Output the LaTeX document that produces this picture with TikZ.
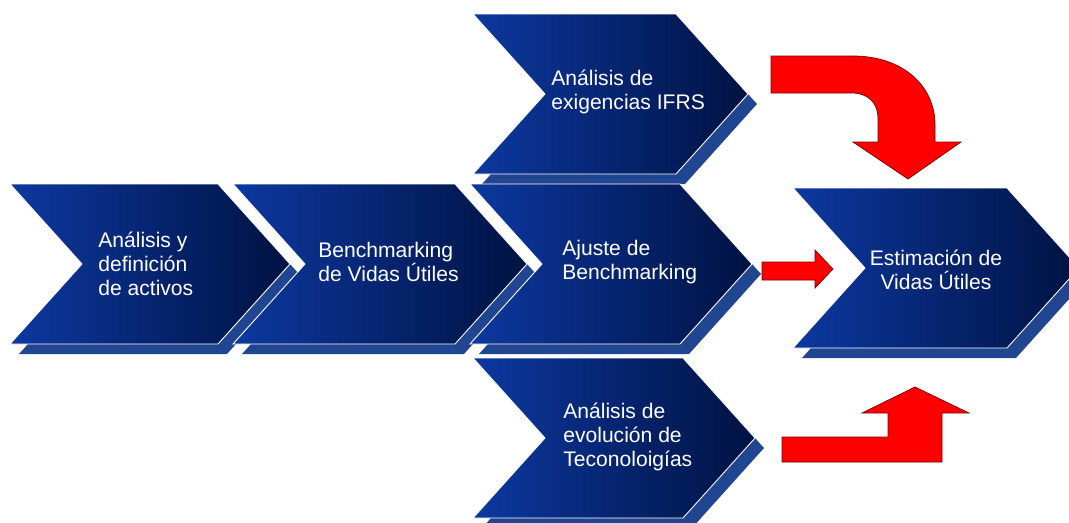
\documentclass[tikz,border=0pt]{standalone}
\usepackage{fontspec}
\setmainfont{Liberation Sans}

\definecolor{azulclaro}{RGB}{12,56,160}
\definecolor{azuloscuro}{RGB}{0,18,66}
\definecolor{azulsombra}{RGB}{32,70,146}
\definecolor{rojo}{RGB}{255,0,0}
\definecolor{rojoborde}{RGB}{120,0,0}

\tikzset{
  sombra/.style={fill=azulsombra},
  bloque/.style={left color=azulclaro, right color=azuloscuro, draw=white, line width=0.5pt},
  texto/.style={text=white, align=left, inner sep=0pt, font=\fontsize{12}{13.6}\selectfont},
  flecharoja/.style={fill=rojo, draw=rojoborde, line width=0.4pt, line join=miter}
}

\begin{document}
\begin{tikzpicture}[x=0.02cm, y=-0.02cm]  % 1 unidad = 1 pixel, y hacia abajo

    \clip (0,0) rectangle (1069,522);
    \fill[white] (0,0) rectangle (1069,522);

    % bloques en forma de chevron (sombra y bloque)
    \foreach \x/\y/\w in {473/14/203, 10/184/208, 233/184/222, 470/184/210, 473/358/210, 793/188/214} {
        \fill[sombra] (\x+9,\y+10) -- ++(\w,0) -- ++(72,80) -- ++(-72,80) -- ++(-\w,0) -- ++(72,-80) -- cycle;
        \path[bloque] (\x,\y) -- ++(\w,0) -- ++(72,80) -- ++(-72,80) -- ++(-\w,0) -- ++(72,-80) -- cycle;
    }

    % textos
    \node[texto, anchor=west] (activos) at (98,264) {Análisis y\\definición\\de activos};
    \node[texto, anchor=west] (bench) at (318,262) {Benchmarking\\de Vidas Útiles};
    \node[texto, anchor=west] (ajuste) at (562,262) {Ajuste de\\Benchmarking};
    \node[texto, anchor=west] (ifrs) at (551,92) {Análisis de\\exigencias IFRS};
    \node[texto, anchor=west] (tecno) at (563,437) {Análisis de\\evolución de\\Teconoloigías};
    \node[texto, align=center] (estimacion) at (936,270) {Estimación de\\Vidas Útiles};

    % flecha curva (arriba)
    \draw[flecharoja] (771,56) -- (853,56) .. controls (902,56) and (935,85) .. (935,125) -- (935,142) -- (961,142) -- (908,179) -- (853,142) -- (878,142) -- (878,118) .. controls (878,103) and (868,93) .. (852,93) -- (771,93) -- cycle;

    % flecha recta (centro)
    \draw[flecharoja] (762,262) -- (815,262) -- (815,250) -- (833,269) -- (815,288) -- (815,280) -- (762,280) -- cycle;

    % flecha doblada (abajo)
    \draw[flecharoja] (782,462) -- (782,437) -- (888,437) -- (888,413) -- (862,413) -- (915,387) -- (969,413) -- (942,413) -- (942,462) -- cycle;

\end{tikzpicture}
\end{document}
